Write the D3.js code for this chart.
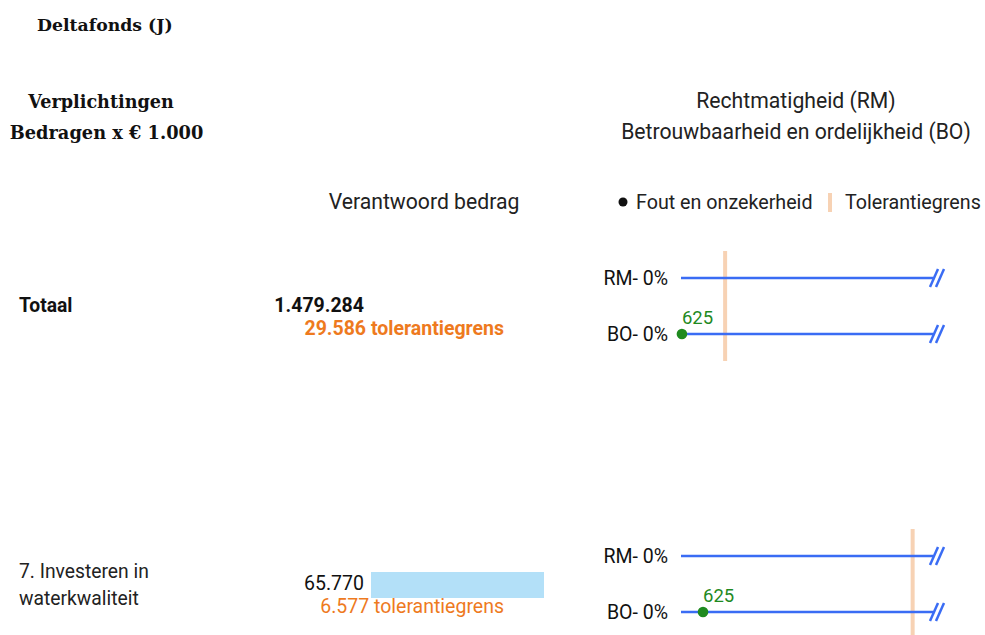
<!DOCTYPE html>
<html>
<head>
<meta charset="utf-8">
<script src="https://cdn.jsdelivr.net/npm/d3@7"></script>
<style>
  body { margin: 0; background: #fff; }
  text { font-family: Roboto, sans-serif; }
  .serif { font-family: "DejaVu Serif", serif; font-weight: bold; }
</style>
</head>
<body>
<div id="center"></div>
<script>
// data
let rows = ["Totaal", "7. Investeren in waterkwaliteit"];
let rowLines = [["Totaal"], ["7. Investeren in", "waterkwaliteit"]];
let bedrag = [1479284, 65770];
let tolerantie = [29586, 6577];
let fout = [625, 625];
let rmPct = ["RM- 0%", "RM- 0%"];
let boPct = ["BO- 0%", "BO- 0%"];
let scaleMax = [171000, 7240];

let width = 985;
let height = 635;
const svg = d3.select("#center").append("svg")
    .attr("width", width)
    .attr("height", height)

let fmt = d3.formatLocale({decimal: ",", thousands: ".", grouping: [3], currency: ["€", ""]}).format(",d");

// headers
svg.append("text").attr("class", "serif").attr("x", 37).attr("y", 31)
    .attr("font-size", 17.3).attr("fill", "#111").text("Deltafonds (J)");
svg.append("text").attr("class", "serif").attr("x", 101).attr("y", 108)
    .attr("text-anchor", "middle").attr("font-size", 17.6).attr("fill", "#111").text("Verplichtingen");
svg.append("text").attr("class", "serif").attr("x", 106.5).attr("y", 139)
    .attr("text-anchor", "middle").attr("font-size", 17.8).attr("fill", "#111").text("Bedragen x € 1.000");

svg.append("text").attr("x", 796).attr("y", 108).attr("text-anchor", "middle")
    .attr("font-size", 21.2).attr("fill", "#222").text("Rechtmatigheid (RM)");
svg.append("text").attr("x", 796).attr("y", 139).attr("text-anchor", "middle")
    .attr("font-size", 21.2).attr("fill", "#222").text("Betrouwbaarheid en ordelijkheid (BO)");
svg.append("text").attr("x", 424).attr("y", 209).attr("text-anchor", "middle")
    .attr("font-size", 21.2).attr("fill", "#222").text("Verantwoord bedrag");

// legend
svg.append("circle").attr("cx", 623).attr("cy", 202).attr("r", 4.5).attr("fill", "#111");
svg.append("text").attr("x", 636).attr("y", 209).attr("font-size", 19.7).attr("fill", "#222").text("Fout en onzekerheid");
svg.append("rect").attr("x", 828).attr("y", 193).attr("width", 4).attr("height", 19).attr("fill", "#f7d2b4");
svg.append("text").attr("x", 845).attr("y", 209).attr("font-size", 19.7).attr("fill", "#222").text("Tolerantiegrens");

let rowY = [0, 278];   // offset of each row
let barScale = d3.scaleLinear().domain([0, d3.max(bedrag.slice(1))]).range([0, 173]);

rows.forEach(function (name, i) {
    let g = svg.append("g").attr("transform", "translate(0," + rowY[i] + ")");
    let isTotal = i === 0;
    if (isTotal) {
        g.append("text").attr("x", 19).attr("y", 312).attr("font-size", 19.3)
            .attr("font-weight", "bold").attr("fill", "#111").text(rowLines[i][0]);
    } else {
        rowLines[i].forEach(function (t, k) {
            g.append("text").attr("x", 19).attr("y", 300 + k * 27).attr("font-size", 19.3)
                .attr("fill", "#222").text(t);
        });
    }
    g.append("text").attr("x", 364).attr("y", isTotal ? 312 : 312).attr("text-anchor", "end")
        .attr("font-size", 19.5).attr("font-weight", isTotal ? "bold" : "normal")
        .attr("fill", "#111").text(fmt(bedrag[i]));
    if (!isTotal) {
        g.append("rect").attr("x", 371).attr("y", 294).attr("width", barScale(bedrag[i]))
            .attr("height", 26).attr("fill", "#b3e0f8");
    }
    g.append("text").attr("x", 504).attr("y", 335).attr("text-anchor", "end")
        .attr("font-size", 19.5).attr("font-weight", isTotal ? "bold" : "normal")
        .attr("fill", "#ee7a1e").text(fmt(tolerantie[i]) + " tolerantiegrens");

    // right panel
    let x = d3.scaleLinear().domain([0, scaleMax[i]]).range([681, 936]);
    let lines = [{label: rmPct[i], y: 278, fout: null}, {label: boPct[i], y: 334, fout: fout[i]}];
    let bottom = isTotal ? 361 : 358;
    g.append("line").attr("x1", x(tolerantie[i])).attr("x2", x(tolerantie[i]))
        .attr("y1", 251).attr("y2", bottom)
        .attr("stroke", "#f7d2b4").attr("stroke-width", 4);
    lines.forEach(function (l) {
        g.append("text").attr("x", 668).attr("y", l.y + 7).attr("text-anchor", "end")
            .attr("font-size", 19.5).attr("fill", "#111").text(l.label);
        g.append("line").attr("x1", x(0)).attr("x2", 933)
            .attr("y1", l.y).attr("y2", l.y)
            .attr("stroke", "#3a6cf4").attr("stroke-width", 2.5);
        [0, 6].forEach(function (dx) {
            g.append("line").attr("x1", 930 + dx).attr("x2", 938 + dx)
                .attr("y1", l.y + 9).attr("y2", l.y - 9)
                .attr("stroke", "#3a6cf4").attr("stroke-width", 2.5);
        });
        if (l.fout !== null) {
            g.append("circle").attr("cx", x(l.fout)).attr("cy", l.y).attr("r", 5.3).attr("fill", "#1f8a1f");
            g.append("text").attr("x", x(l.fout)).attr("y", l.y - 10)
                .attr("font-size", 18.5).attr("fill", "#1f8a1f").text(fmt(l.fout));
        }
    });
});
</script>
</body>
</html>
